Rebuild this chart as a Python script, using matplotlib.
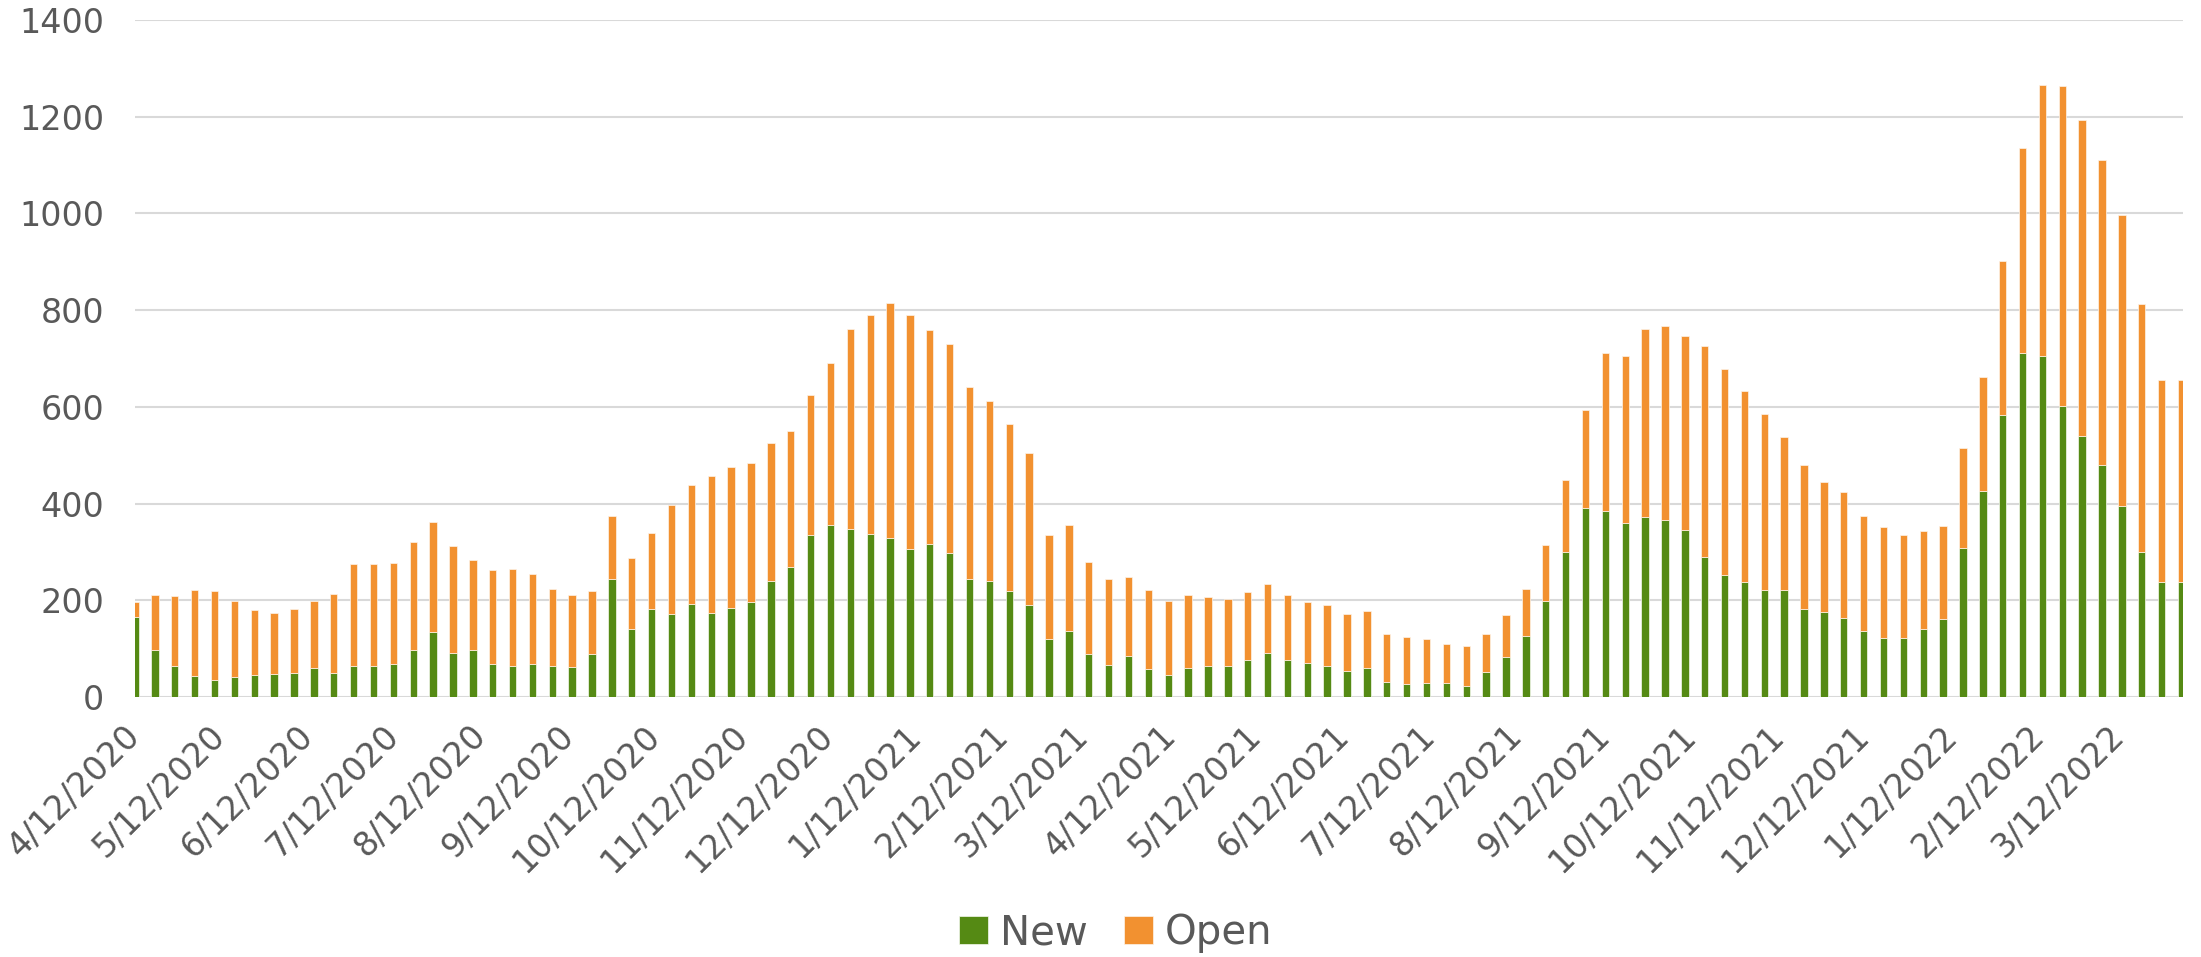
import numpy as np
import pandas as pd
import matplotlib
matplotlib.use('Agg')
import matplotlib.pyplot as plt
import matplotlib.dates as mdates

# weekly data, week starting 4/12/2020
weeks = pd.date_range('2020-04-12', periods=104, freq='7D')

new_cases = [166, 97, 64, 44, 36, 42, 46, 48, 50, 60, 50, 64, 64, 69, 97, 134,
             90, 97, 69, 64, 69, 64, 62, 89, 244, 141, 181, 171, 192, 174, 183, 197,
             239, 269, 334, 356, 347, 337, 329, 307, 317, 298, 245, 239, 219, 191, 119, 137,
             88, 66, 84, 57, 45, 60, 65, 65, 76, 91, 76, 71, 64, 54, 60, 30,
             26, 29, 28, 22, 51, 83, 126, 199, 300, 390, 385, 359, 372, 366, 346, 290,
             253, 238, 222, 222, 182, 176, 163, 136, 122, 122, 141, 162, 308, 426, 583, 711,
             706, 601, 540, 479, 394, 299, 238, 238]

total_cases = [196, 211, 208, 221, 219, 198, 180, 173, 182, 199, 214, 275, 275, 277, 320, 361,
               313, 284, 262, 264, 255, 224, 211, 219, 375, 287, 339, 397, 439, 457, 476, 484,
               526, 550, 624, 691, 761, 789, 815, 789, 758, 730, 642, 612, 564, 504, 334, 355,
               279, 244, 249, 221, 199, 211, 207, 203, 217, 233, 211, 197, 191, 172, 178, 130,
               125, 119, 109, 105, 131, 169, 223, 314, 449, 593, 711, 706, 760, 767, 746, 725,
               679, 632, 586, 538, 479, 445, 423, 374, 351, 336, 344, 354, 514, 662, 901, 1136,
               1265, 1263, 1193, 1111, 996, 813, 656, 656]

open_cases = [t - n for t, n in zip(total_cases, new_cases)]

# monthly labels on the 12th
tick_dates = pd.date_range('2020-04-01', '2022-03-01', freq='MS') + pd.Timedelta(days=11)
tick_labels = ['%d/%d/%d' % (d.month, d.day, d.year) for d in tick_dates]

green = '#558A14'
orange = '#F29130'
txt = '#595959'

fig = plt.figure(figsize=(22.01, 9.57), dpi=100)
ax = fig.add_axes([0.0613, 0.2717, 0.9305, 0.7074])

ax.bar(weeks, new_cases, width=2.6, color=green, edgecolor='#F4F8EE', linewidth=0.5,
       label='New', zorder=3)
ax.bar(weeks, open_cases, width=2.6, bottom=new_cases, color=orange, edgecolor='#FDF4EA',
       linewidth=0.5, label='Open', zorder=3)

ax.set_ylim(0, 1400)
ax.set_yticks(range(0, 1401, 200))
ax.set_xlim(weeks[0] - pd.Timedelta(days=0.05), weeks[-1] + pd.Timedelta(days=0.5))
ax.set_xticks(tick_dates)
ax.set_xticklabels(tick_labels, rotation=45, ha='right', va='center', rotation_mode='anchor')

ax.grid(axis='y', color='#D9D9D9', linewidth=1.5, zorder=0)
ax.set_axisbelow(True)
for s in ax.spines.values():
    s.set_visible(False)
ax.tick_params(axis='y', length=0, pad=22, labelsize=24, labelcolor=txt)
ax.tick_params(axis='x', length=0, pad=24, labelsize=24, labelcolor=txt)

leg = fig.legend(loc='center', bbox_to_anchor=(0.507, 0.025), ncol=2, frameon=False,
                 fontsize=29, handlelength=0.72, handleheight=0.72, handletextpad=0.3,
                 columnspacing=0.9)
for t in leg.get_texts():
    t.set_color(txt)

fig.savefig('out.png', dpi=100)
